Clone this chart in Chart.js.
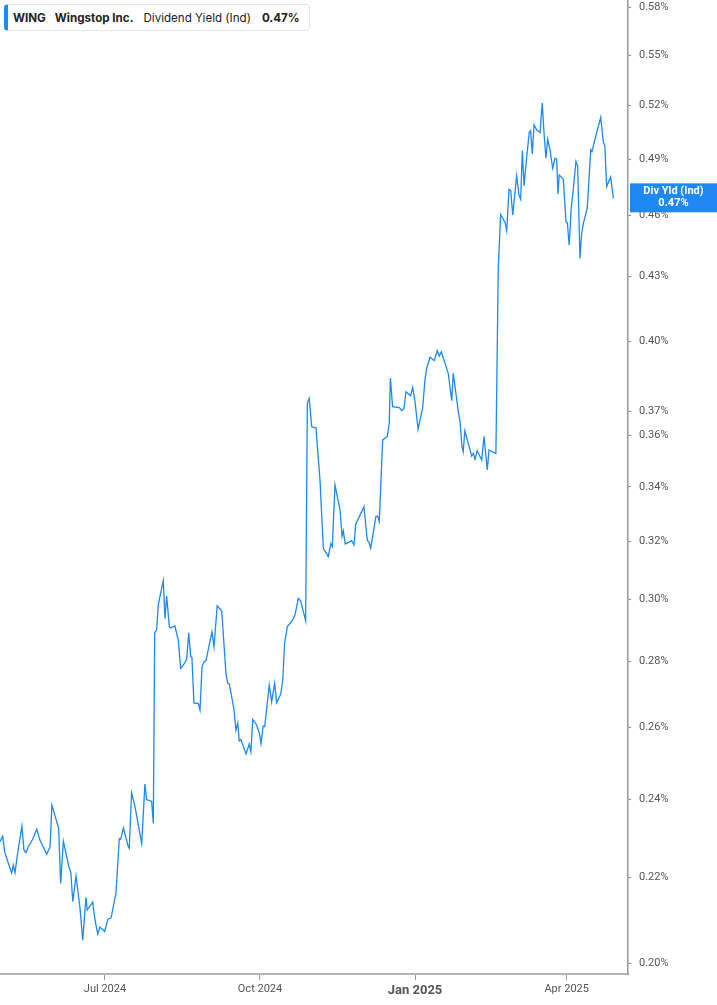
<!DOCTYPE html>
<html>
<head>
<meta charset="utf-8">
<script src="https://cdn.jsdelivr.net/npm/chart.js@4"></script>
<style>
  html, body { margin: 0; padding: 0; background: #fff; }
  #wrap { position: relative; width: 717px; height: 1005px; }
  #legend {
    position: absolute; left: 4px; top: 4px; width: 301px; height: 25px;
    border: 1px solid #e4e6ea; border-left: 4px solid #1e88f5; border-radius: 4px;
    font-family: Inter, "Noto Sans", sans-serif; font-size: 11.6px; color: #222;
    display: flex; align-items: center; background: #fff; box-sizing: content-box;
  }
  #legend span { white-space: nowrap; }
  #legend .b { font-weight: 700; }
</style>
</head>
<body>
<div id="wrap">
  <canvas id="chart" width="717" height="1005"></canvas>
  <div id="legend">
    <span class="b" style="margin-left:5px">WING</span>
    <span class="b" style="margin-left:9px">Wingstop Inc.</span>
    <span style="margin-left:10px">Dividend Yield (Ind)</span>
    <span class="b" style="margin-left:11px">0.47%</span>
  </div>
</div>
<script>
"use strict";

// days counted from 1 Jul 2024
const days = [
  -62.3, -60.7, -59.5, -57.4, -55.4, -54.4, -53.4, -52.0, -50.9, -49.3,
  -48.1, -46.9, -45.5, -42.9, -40.5, -38.6, -34.6, -32.6, -31.5, -27.5,
  -26.3, -24.7, -21.2, -20.3, -19.1, -17.2, -14.8, -13.2, -11.3, -10.5,
  -7.3, -5.9, -4.3, -3.0, -0.2, 1.8, 3.6, 6.5, 8.5, 9.3,
  10.9, 13.8, 14.4, 15.8, 17.8, 21.8, 23.7, 24.7, 27.7, 28.7,
  29.5, 30.7, 31.6, 34.6, 35.6, 36.6, 38.2, 39.0, 41.5, 43.5,
  44.9, 46.5, 48.5, 49.7, 50.9, 51.6, 52.8, 55.4, 56.4, 57.6,
  58.8, 59.9, 63.5, 64.7, 66.6, 69.3, 71.8, 72.8, 73.8, 76.6,
  77.7, 78.8, 79.7, 80.7, 83.7, 85.6, 86.6, 87.7, 90.0, 91.6,
  92.6, 93.9, 94.8, 97.5, 98.9, 100.7, 101.9, 104.3, 105.5, 106.6,
  108.2, 111.4, 112.9, 114.7, 116.1, 119.1, 120.1, 121.2, 122.7, 125.2,
  127.6, 129.6, 132.5, 134.0, 134.9, 136.5, 139.5, 140.7, 141.4, 142.6,
  145.4, 146.4, 147.8, 148.8, 153.7, 155.7, 156.5, 157.7, 160.8, 161.8,
  162.8, 164.8, 167.5, 168.7, 169.4, 170.7, 174.7, 176.1, 177.4, 178.6,
  181.4, 182.6, 184.0, 185.8, 188.5, 189.9, 190.9, 192.9, 195.4, 197.2,
  198.4, 199.6, 203.7, 205.8, 206.7, 209.7, 210.7, 211.9, 212.6, 213.6,
  217.6, 218.6, 219.6, 220.9, 223.6, 224.9, 226.9, 227.9, 230.9, 232.0,
  233.4, 234.8, 237.4, 238.4, 239.8, 240.8, 242.0, 244.3, 245.7, 246.7,
  247.7, 248.7, 250.3, 251.8, 252.6, 253.6, 254.6, 256.2, 258.2, 259.5,
  260.7, 261.7, 262.7, 264.1, 265.7, 267.1, 268.1, 268.8, 269.6, 272.0,
  273.6, 274.4, 275.5, 276.7, 277.9, 279.5, 280.5, 281.9, 282.9, 283.9,
  286.2, 288.3, 289.0, 290.2, 294.2, 295.7, 296.7, 297.7, 300.1, 301.7
];

// dividend yield, %
const yields = [
  0.2290, 0.2304, 0.2264, 0.2236, 0.2212, 0.2231, 0.2212, 0.2256, 0.2286, 0.2330,
  0.2269, 0.2262, 0.2277, 0.2296, 0.2322, 0.2294, 0.2258, 0.2277, 0.2385, 0.2324,
  0.2186, 0.2291, 0.2223, 0.2214, 0.2142, 0.2204, 0.2126, 0.2052, 0.2152, 0.2122,
  0.2141, 0.2098, 0.2066, 0.2082, 0.2072, 0.2101, 0.2103, 0.2162, 0.2298, 0.2296,
  0.2325, 0.2277, 0.2273, 0.2418, 0.2382, 0.2285, 0.2442, 0.2400, 0.2395, 0.2337,
  0.2889, 0.2901, 0.2981, 0.3063, 0.2937, 0.3011, 0.2910, 0.2906, 0.2912, 0.2867,
  0.2778, 0.2788, 0.2806, 0.2890, 0.2814, 0.2812, 0.2673, 0.2671, 0.2652, 0.2783,
  0.2798, 0.2801, 0.2893, 0.2845, 0.2979, 0.2961, 0.2762, 0.2732, 0.2730, 0.2652,
  0.2593, 0.2614, 0.2562, 0.2566, 0.2525, 0.2553, 0.2531, 0.2624, 0.2608, 0.2584,
  0.2555, 0.2605, 0.2603, 0.2727, 0.2676, 0.2732, 0.2673, 0.2699, 0.2742, 0.2856,
  0.2910, 0.2931, 0.2951, 0.3003, 0.2995, 0.2929, 0.3732, 0.3753, 0.3636, 0.3632,
  0.3427, 0.3175, 0.3146, 0.3191, 0.3181, 0.3408, 0.3314, 0.3219, 0.3238, 0.3191,
  0.3199, 0.3203, 0.3187, 0.3262, 0.3326, 0.3203, 0.3199, 0.3176, 0.3290, 0.3292,
  0.3272, 0.3583, 0.3596, 0.3650, 0.3839, 0.3718, 0.3714, 0.3702, 0.3709, 0.3781,
  0.3764, 0.3799, 0.3739, 0.3626, 0.3712, 0.3830, 0.3881, 0.3929, 0.3914, 0.3958,
  0.3934, 0.3953, 0.3859, 0.3743, 0.3859, 0.3698, 0.3656, 0.3556, 0.3536, 0.3620,
  0.3520, 0.3530, 0.3507, 0.3540, 0.3504, 0.3598, 0.3465, 0.3543, 0.3533, 0.3530,
  0.4334, 0.4606, 0.4567, 0.4524, 0.4737, 0.4730, 0.4604, 0.4809, 0.4708, 0.4685,
  0.4946, 0.4755, 0.4913, 0.5049, 0.5058, 0.4928, 0.5090, 0.5062, 0.5047, 0.5215,
  0.5025, 0.4904, 0.5010, 0.4950, 0.4850, 0.4904, 0.4899, 0.4713, 0.4814, 0.4791,
  0.4569, 0.4565, 0.4452, 0.4638, 0.4734, 0.4886, 0.4863, 0.4386, 0.4511, 0.4561,
  0.4638, 0.4950, 0.4941, 0.4987, 0.5133, 0.4997, 0.4970, 0.4752, 0.4803, 0.4690
];

const yTicks = [0.20, 0.22, 0.24, 0.26, 0.28, 0.30, 0.32, 0.34, 0.36, 0.37,
  0.40, 0.43, 0.46, 0.49, 0.52, 0.55, 0.58];
const xTickDays = [0, 92, 184, 274];
const xTickLabels = ["Jul 2024", "Oct 2024", "Jan 2025", "Apr 2025"];

const LINE = "#1e88f5";
const FONT = "Roboto, 'Noto Sans', sans-serif";

const lastLabel = {
  id: "lastLabel",
  afterDraw(chart) {
    const ctx = chart.ctx;
    const y = chart.scales.y.getPixelForValue(yields[yields.length - 1]);
    const left = chart.chartArea.right + 2;
    ctx.save();
    ctx.fillStyle = LINE;
    ctx.fillRect(left, y - 15, chart.width - left, 29);
    ctx.fillStyle = "#fff";
    ctx.font = `bold 11px ${FONT}`;
    ctx.textAlign = "center";
    ctx.textBaseline = "middle";
    const cx = (left + chart.width) / 2;
    ctx.fillText("Div Yld (Ind)", cx, y - 7);
    ctx.fillText(yields[yields.length - 1].toFixed(2) + "%", cx, y + 5);
    ctx.restore();
  },
};

new Chart(document.getElementById("chart"), {
  type: "line",
  data: {
    datasets: [
      {
        data: days.map((d, i) => ({ x: d, y: yields[i] })),
        borderColor: LINE,
        borderWidth: 1.3,
        pointRadius: 0,
        tension: 0,
        fill: false,
      },
    ],
  },
  options: {
    responsive: false,
    animation: false,
    events: [],
    layout: { padding: 0 },
    plugins: { legend: { display: false }, tooltip: { enabled: false } },
    scales: {
      x: {
        type: "linear",
        min: -62.3,
        max: 310.4,
        afterBuildTicks: (axis) => {
          axis.ticks = xTickDays.map((v) => ({ value: v }));
        },
        afterFit: (axis) => {
          axis.height = 31;
          axis.paddingLeft = 0;
          axis.paddingRight = 0;
        },
        ticks: {
          autoSkip: false,
          maxRotation: 0,
          padding: 3,
          color: "#555",
          font: (c) =>
            c.tick && c.tick.value === 184
              ? { family: FONT, size: 13, weight: "bold" }
              : { family: FONT, size: 11 },
          callback: (v) => xTickLabels[xTickDays.indexOf(v)],
        },
        grid: { drawOnChartArea: false, drawTicks: true, tickLength: 6, color: "#999" },
        border: { display: true, color: "#b5b5b5", width: 2 },
      },
      y: {
        type: "logarithmic",
        position: "right",
        min: 0.1976,
        max: 0.585,
        afterBuildTicks: (axis) => {
          axis.ticks = yTicks.map((v) => ({ value: v }));
        },
        afterFit: (axis) => {
          axis.width = 89;
          axis.paddingTop = 0;
          axis.paddingBottom = 0;
        },
        ticks: {
          autoSkip: false,
          padding: 8,
          color: "#555",
          font: { family: FONT, size: 11 },
          callback: (v) => v.toFixed(2) + "%",
        },
        grid: { drawOnChartArea: false, drawTicks: true, tickLength: 3, color: "#888" },
        border: { display: true, color: "#999", width: 1.5 },
      },
    },
  },
  plugins: [lastLabel],
});
</script>
</body>
</html>
